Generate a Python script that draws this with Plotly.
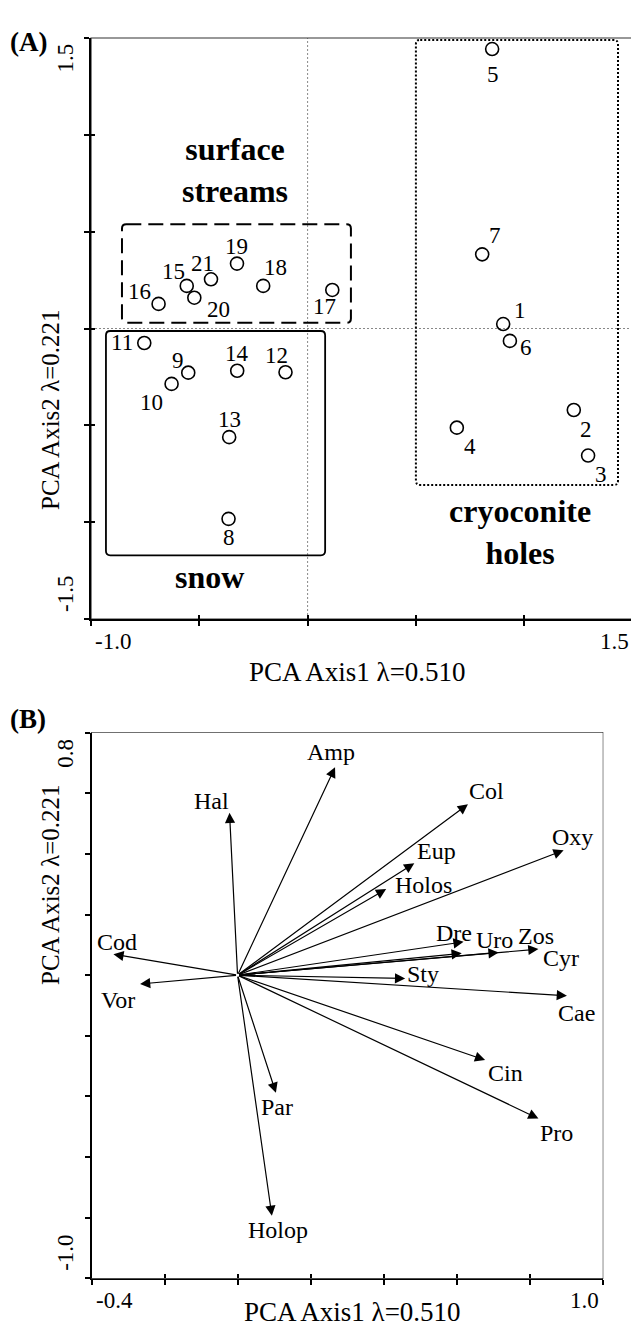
import plotly.graph_objects as go

W, H = 631, 1335          # page adds an 8px body margin
OFF = 8
FONT = "Liberation Serif"

# ---------------- Panel A data: site scores ----------------
site_ids = ["1", "2", "3", "4", "5", "6", "7", "8", "9", "10", "11",
            "12", "13", "14", "15", "16", "17", "18", "19", "20", "21"]
site_pc1 = [0.903, 1.229, 1.295, 0.689, 0.852, 0.934, 0.806, -0.365, -0.551, -0.628, -0.754,
            -0.102, -0.362, -0.325, -0.558, -0.688, 0.114, -0.205, -0.326, -0.523, -0.446]
site_pc2 = [0.023, -0.421, -0.656, -0.512, 1.443, -0.064, 0.383, -0.983, -0.228, -0.286, -0.075,
            -0.226, -0.561, -0.218, 0.220, 0.127, 0.199, 0.220, 0.335, 0.159, 0.254]
# label offsets in px (dx right, dy down)
site_lbl_dx = [17, 12, 13, 13, 1, 16, 13, 0, -10, -20, -22, -9, 0, 0, -13, -19, -8, 12, 0, 24, -9]
site_lbl_dy = [-14, 19, 19, 19, 25, 7, -19, 19, -12, 19, -1, -17, -18, -17, -14, -12, 17, -18, -17, 12, -16]

# group boxes (extent in PCA units)
group_names = ["surface<br>streams", "snow", "cryoconite<br>holes"]
group_x0 = [-0.857, -0.931, 0.500]
group_x1 = [0.200, 0.081, 1.433]
group_y0 = [0.030, -1.171, -0.808]
group_y1 = [0.538, -0.013, 1.490]
group_lbl_x = [-0.335, -0.451, 0.980]
group_lbl_y = [0.818, -1.283, -1.050]
group_dash = ["15px,7px", "solid", "2px,2px"]

# ---------------- Panel B data: species vectors ----------------
species = ["Hal", "Cod", "Vor", "Amp", "Col", "Oxy", "Eup", "Holos", "Dre", "Uro", "Zos",
           "Cyr", "Sty", "Cae", "Cin", "Pro", "Par", "Holop"]
sp_pc1 = [-0.022, -0.340, -0.267, 0.267, 0.631, 0.893, 0.484, 0.407, 0.619, 0.614, 0.715,
          0.824, 0.459, 0.902, 0.678, 0.824, 0.105, 0.094]
sp_pc2 = [0.536, 0.069, -0.029, 0.686, 0.564, 0.412, 0.369, 0.284, 0.110, 0.072, 0.075,
          0.086, -0.011, -0.068, -0.280, -0.473, -0.388, -0.794]
sp_lbl_dx = [-18, 4, -22, -4, 19, 9, 22, 37, -10, 33, 37, 23, 18, 10, 20, 18, 1, 6]
sp_lbl_dy = [-12, -12, 16, -15, -13, -13, -12, -4, -9, -13, -16, 9, -5, 17, 13, 14, 14, 14]

axis_title_x = "PCA Axis1 λ=0.510"
axis_title_y = "PCA Axis2 λ=0.221"
rangeA_x, rangeA_y = [-1.0, 1.5], [-1.5, 1.5]
rangeB_x, rangeB_y = [-0.4, 1.0], [-1.0, 0.8]


def fx(px):
    return (px - OFF) / W


def fy(py):
    return 1 - (py - OFF) / H


fig = go.Figure()

# sites
fig.add_trace(go.Scatter(
    x=site_pc1, y=site_pc2, mode="markers", xaxis="x", yaxis="y",
    marker=dict(symbol="circle-open", size=13, color="black", line=dict(width=1.6, color="black")),
    hoverinfo="skip", showlegend=False))

# empty traces so the inside-tick overlay axes are drawn
for xa, ya in (("x3", "y"), ("x", "y3"), ("x4", "y2"), ("x2", "y4")):
    fig.add_trace(go.Scatter(x=[None], y=[None], xaxis=xa, yaxis=ya, mode="markers",
                             hoverinfo="skip", showlegend=False))

shapes = []
ann = []

# rounded group boxes
for i in range(3):
    x0, x1, y0, y1 = group_x0[i], group_x1[i], group_y0[i], group_y1[i]
    rx, ry = 0.02, 0.022
    path = (f"M{x0+rx},{y1} L{x1-rx},{y1} Q{x1},{y1} {x1},{y1-ry} "
            f"L{x1},{y0+ry} Q{x1},{y0} {x1-rx},{y0} L{x0+rx},{y0} "
            f"Q{x0},{y0} {x0},{y0+ry} L{x0},{y1-ry} Q{x0},{y1} {x0+rx},{y1} Z")
    shapes.append(dict(type="path", path=path, xref="x", yref="y",
                       line=dict(color="black", width=2 if i != 1 else 1.8, dash=group_dash[i])))
    ann.append(dict(x=group_lbl_x[i], y=group_lbl_y[i], xref="x", yref="y", text=f"<b>{group_names[i]}</b>",
                    showarrow=False, font=dict(family=FONT, size=32, color="black"), align="center"))

for i, s in enumerate(site_ids):
    ann.append(dict(x=site_pc1[i], y=site_pc2[i], xref="x", yref="y", text=s, showarrow=False,
                    xshift=site_lbl_dx[i], yshift=-site_lbl_dy[i],
                    font=dict(family=FONT, size=23, color="black")))

# species arrows
for i, s in enumerate(species):
    ann.append(dict(x=sp_pc1[i], y=sp_pc2[i], ax=0, ay=0, xref="x2", yref="y2", axref="x2", ayref="y2",
                    text="", showarrow=True, arrowhead=2, arrowsize=1.7, arrowwidth=1.2,
                    arrowcolor="black", standoff=0, startstandoff=0))
    ann.append(dict(x=sp_pc1[i], y=sp_pc2[i], xref="x2", yref="y2", text=s, showarrow=False,
                    xshift=sp_lbl_dx[i], yshift=-sp_lbl_dy[i],
                    font=dict(family=FONT, size=24, color="black")))

# zero lines, frames
for xa, ya in (("x", "y"), ("x2", "y2")):
    shapes.append(dict(type="line", xref=xa, yref=f"{ya} domain", x0=0, x1=0, y0=0, y1=1,
                       line=dict(color="#888888", width=1, dash="2px,2px"), layer="below"))
    shapes.append(dict(type="line", xref=f"{xa} domain", yref=ya, x0=0, x1=1, y0=0, y1=0,
                       line=dict(color="#888888", width=1, dash="2px,2px"), layer="below"))
    shapes.append(dict(type="rect", xref=f"{xa} domain", yref=f"{ya} domain", x0=0, x1=1, y0=0, y1=1,
                       line=dict(color="#333333", width=1.2), layer="below"))

tickfont = dict(family=FONT, size=23, color="black")
# end tick labels anchored to axis extents
for xa, ya, rx, ry in (("x", "y", rangeA_x, rangeA_y), ("x2", "y2", rangeB_x, rangeB_y)):
    ann.append(dict(x=rx[0], y=0, xref=xa, yref=f"{ya} domain", text=f"{rx[0]:.1f}", showarrow=False,
                    xanchor="left", yanchor="top", xshift=2, yshift=-8, font=tickfont))
    ann.append(dict(x=rx[1], y=0, xref=xa, yref=f"{ya} domain", text=f"{rx[1]:.1f}", showarrow=False,
                    xanchor="right", yanchor="top", xshift=-2, yshift=-8, font=tickfont))
    ann.append(dict(x=0, y=ry[1], xref=f"{xa} domain", yref=ya, text=f"{ry[1]:.1f}", showarrow=False,
                    xanchor="center", yanchor="top", xshift=-26, yshift=-4, textangle=-90, font=tickfont))
    ann.append(dict(x=0, y=ry[0], xref=f"{xa} domain", yref=ya, text=f"{ry[0]:.1f}", showarrow=False,
                    xanchor="center", yanchor="bottom", xshift=-26, yshift=5, textangle=-90, font=tickfont))

titlefont_h = dict(family=FONT, size=27, color="black")
titlefont_v = dict(family=FONT, size=25, color="black")
ann += [
    dict(x=fx(357), y=fy(672), xref="paper", yref="paper", text=axis_title_x, showarrow=False, font=titlefont_h),
    dict(x=fx(35), y=fy(307), xref="paper", yref="paper", text=axis_title_y, showarrow=False,
         textangle=-90, font=titlefont_v),
    dict(x=fx(352), y=fy(1329), xref="paper", yref="paper", text=axis_title_x, showarrow=False, font=titlefont_h),
    dict(x=fx(35), y=fy(987), xref="paper", yref="paper", text=axis_title_y, showarrow=False,
         textangle=-90, font=titlefont_v),
    dict(x=fx(8), y=fy(25), xref="paper", yref="paper", text="<b>(A)</b>", showarrow=False, xanchor="left",
         font=dict(family=FONT, size=27, color="black")),
    dict(x=fx(8), y=fy(719), xref="paper", yref="paper", text="<b>(B)</b>", showarrow=False, xanchor="left",
         font=dict(family=FONT, size=27, color="black")),
]

axcommon = dict(showgrid=False, zeroline=False, showticklabels=False, ticks="outside", ticklen=5,
                tickwidth=1.6, tickcolor="black", showline=True, linecolor="black", linewidth=2)
axinside = dict(showgrid=False, zeroline=False, showticklabels=False, ticks="inside", ticklen=4,
                tickwidth=1.6, tickcolor="black", showline=False)

domAx, domAy = [fx(91), fx(632.5)], [fy(619), fy(38)]
domBx, domBy = [fx(91.5), fx(602.7)], [fy(1278.3), fy(732.7)]

fig.update_layout(
    width=W, height=H, margin=dict(l=0, r=0, t=0, b=0),
    paper_bgcolor="white", plot_bgcolor="white", showlegend=False,
    xaxis=dict(domain=domAx, range=rangeA_x, dtick=0.5, tick0=0, anchor="y", **axcommon),
    yaxis=dict(domain=domAy, range=rangeA_y, dtick=0.5, tick0=0, anchor="x", **axcommon),
    xaxis2=dict(domain=domBx, range=rangeB_x, dtick=0.2, tick0=0, anchor="y2", **axcommon),
    yaxis2=dict(domain=domBy, range=rangeB_y, dtick=0.2, tick0=0, anchor="x2", **axcommon),
    xaxis3=dict(domain=domAx, range=rangeA_x, dtick=0.5, tick0=0, anchor="y", overlaying="x", **axinside),
    yaxis3=dict(domain=domAy, range=rangeA_y, dtick=0.5, tick0=0, anchor="x", overlaying="y", **axinside),
    xaxis4=dict(domain=domBx, range=rangeB_x, dtick=0.2, tick0=0, anchor="y2", overlaying="x2", **axinside),
    yaxis4=dict(domain=domBy, range=rangeB_y, dtick=0.2, tick0=0, anchor="x2", overlaying="y2", **axinside),
    shapes=shapes, annotations=ann,
)

fig.write_html("out.html")
